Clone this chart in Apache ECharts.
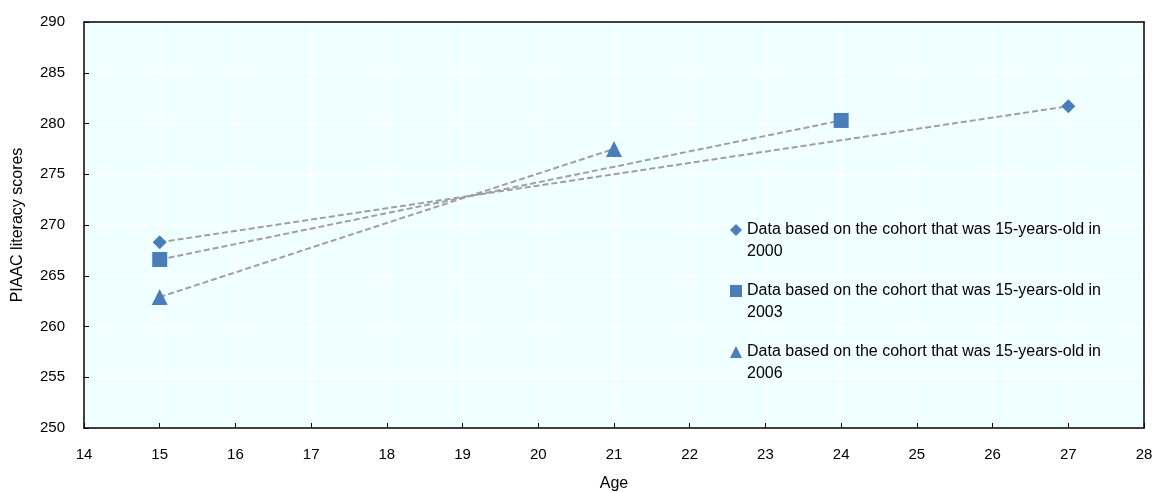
<!DOCTYPE html>
<html><head><meta charset="utf-8">
<script src="https://cdn.jsdelivr.net/npm/echarts@6/dist/echarts.min.js"></script>
<style>html,body{margin:0;padding:0;background:#fff}#c{width:1155px;height:492px}</style>
</head><body><div id="c"></div>
<script>
const seriesNames = [
  'Data based on the cohort that was 15-years-old in 2000',
  'Data based on the cohort that was 15-years-old in 2003',
  'Data based on the cohort that was 15-years-old in 2006'
];
const ages2000 = [15, 27];
const scores2000 = [268.3, 281.7];
const ages2003 = [15, 24];
const scores2003 = [266.6, 280.3];
const ages2006 = [15, 21];
const scores2006 = [262.9, 277.5];
const symbols = ['diamond', 'rect', 'triangle'];
const symbolSizes = [14, 15, 16];

const pairs = [[ages2000, scores2000], [ages2003, scores2003], [ages2006, scores2006]];
const font = 'Liberation Sans, Arial, sans-serif';
const chart = echarts.init(document.getElementById('c'));
const edgeAxis = {
  type: 'value', axisLabel: {show: false}, axisTick: {show: false}, splitLine: {show: false},
  axisLine: {show: true, lineStyle: {color: '#000', width: 1.5}}
};
chart.setOption({
  animation: false,
  backgroundColor: '#fff',
  grid: {left: 84, right: 11, top: 22, bottom: 64, show: true, backgroundColor: '#F0FFFF', borderWidth: 0,
         containLabel: false, outerBoundsMode: 'none'},
  xAxis: [{
    type: 'value', min: 14, max: 28, interval: 1,
    name: 'Age', nameLocation: 'middle', nameGap: 48,
    nameTextStyle: {color: '#000', fontSize: 16, fontFamily: font},
    axisLine: {lineStyle: {color: '#000', width: 1.5}},
    axisTick: {inside: true, length: 5, lineStyle: {color: '#000'}},
    axisLabel: {color: '#000', fontSize: 15, fontFamily: font, margin: 19},
    splitLine: {show: true, lineStyle: {color: '#fff', width: 1.5}}
  }, Object.assign({position: 'top', min: 14, max: 28, interval: 1}, edgeAxis)],
  yAxis: [{
    type: 'value', min: 250, max: 290, interval: 5,
    name: 'PIAAC literacy scores', nameLocation: 'middle', nameGap: 58,
    nameTextStyle: {color: '#000', fontSize: 16, fontFamily: font},
    axisLine: {lineStyle: {color: '#000', width: 1.5}},
    axisTick: {inside: true, length: 5, lineStyle: {color: '#000'}},
    axisLabel: {color: '#000', fontSize: 15, fontFamily: font, margin: 19},
    splitLine: {show: true, lineStyle: {color: '#fff', width: 1.5}}
  }, Object.assign({position: 'right', min: 250, max: 290, interval: 5}, edgeAxis)],
  legend: {
    orient: 'vertical', left: 725, top: 192, itemGap: -5,
    itemWidth: 12, itemHeight: 12,
    data: seriesNames.map((n, i) => ({name: n, icon: symbols[i]})),
    formatter: n => '\n' + n.replace(' in ', ' in\n'),
    textStyle: {color: '#000', fontSize: 16, fontFamily: font, lineHeight: 22}
  },
  series: pairs.map((p, i) => ({
    name: seriesNames[i], type: 'line',
    data: p[0].map((a, j) => [a, p[1][j]]),
    symbol: symbols[i], symbolSize: symbolSizes[i],
    itemStyle: {color: '#4A7EBB'},
    lineStyle: {color: '#A0A0A0', type: [6, 3], width: 2},
    z: 3 - i
  }))
});
</script></body></html>
